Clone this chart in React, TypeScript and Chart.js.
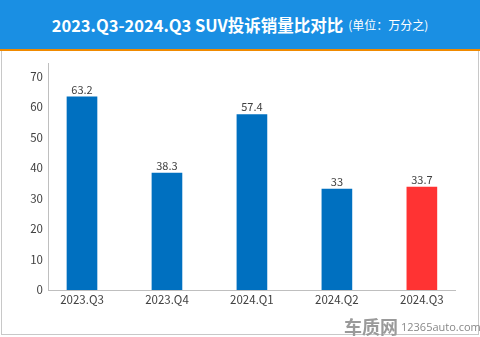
import React, { useEffect, useRef } from "react";
import { Chart, registerables } from "chart.js";

Chart.register(...registerables);

const categories = ["2023.Q3", "2023.Q4", "2024.Q1", "2024.Q2", "2024.Q3"];
const values = [63.2, 38.3, 57.4, 33, 33.7];
const barColors = ["#0070c0", "#0070c0", "#0070c0", "#0070c0", "#ff3333"];
const yTicks = [0, 10, 20, 30, 40, 50, 60, 70];

const FONT = "'Noto Sans CJK SC', 'Noto Sans', sans-serif";

const valueLabels = {
  id: "valueLabels",
  afterDatasetsDraw(chart: any) {
    const ctx = chart.ctx;
    const meta = chart.getDatasetMeta(0);
    ctx.save();
    ctx.font = `11px ${FONT}`;
    ctx.fillStyle = "#404040";
    ctx.textAlign = "center";
    ctx.textBaseline = "bottom";
    meta.data.forEach((bar: any, i: number) => {
      ctx.fillText(String(values[i]), bar.x, bar.y - 2);
    });
    ctx.restore();
  },
};

export default function App() {
  const ref = useRef<HTMLCanvasElement>(null);
  useEffect(() => {
    if (!ref.current) return;
    const chart = new Chart(ref.current, {
      type: "bar",
      data: {
        datasets: [
          {
            data: values.map((v, i) => ({ x: i, y: v })),
            backgroundColor: barColors,
            barThickness: 30,
          },
        ],
      },
      options: {
        animation: false,
        responsive: false,
        maintainAspectRatio: false,
        layout: { padding: { left: 0, right: 25, top: 12, bottom: 0 } },
        plugins: { legend: { display: false }, tooltip: { enabled: false }, title: { display: false } },
        scales: {
          x: {
            type: "linear",
            offset: false,
            min: -0.4,
            max: 4.39,
            grid: { display: false, drawTicks: false, offset: false },
            border: { display: true, color: "#bfbfbf", width: 1 },
            afterBuildTicks: (scale: any) => {
              scale.ticks = categories.map((_, i) => ({ value: i }));
            },
            afterFit: (scale: any) => {
              scale.height = 31;
            },
            ticks: {
              autoSkip: false,
              maxRotation: 0,
              padding: 3,
              color: "#404040",
              font: { family: FONT, size: 11.5 },
              callback: (v: any) => categories[v as number] ?? "",
            },
          },
          y: {
            min: 0,
            max: 74.3,
            grid: { display: false, drawTicks: false },
            border: { display: true, color: "#bfbfbf", width: 1 },
            afterBuildTicks: (scale: any) => {
              scale.ticks = yTicks.map((v) => ({ value: v }));
            },
            afterFit: (scale: any) => {
              scale.width = 48;
            },
            ticks: {
              padding: 5,
              color: "#404040",
              font: { family: FONT, size: 11.5 },
            },
          },
        },
      },
      plugins: [valueLabels],
    });
    return () => chart.destroy();
  }, []);

  return (
    <div style={{ position: "absolute", left: 0, top: 0, width: 480, height: 337, background: "#fff", overflow: "hidden" }}>
      <div
        style={{
          position: "absolute",
          left: 0,
          top: 0,
          width: 480,
          height: 49,
          background: "#1a8fe3",
          color: "#fff",
          display: "flex",
          alignItems: "center",
          justifyContent: "center",
          fontFamily: FONT,
          whiteSpace: "nowrap",
        }}
      >
        <span style={{ fontSize: 16.5, fontWeight: 700 }}>2023.Q3-2024.Q3 SUV投诉销量比对比</span>
        <span style={{ fontSize: 12, marginLeft: 5 }}>(单位：万分之)</span>
      </div>
      <div style={{ position: "absolute", left: 0, top: 49, width: 480, height: 2, background: "#f08a00" }} />
      <div
        style={{
          position: "absolute",
          left: 1,
          top: 51,
          width: 476,
          height: 283,
          borderLeft: "1px solid #c8c8c8",
          borderRight: "1px solid #c8c8c8",
          borderBottom: "1px solid #c8c8c8",
        }}
      />
      <canvas ref={ref} width={480} height={270} style={{ position: "absolute", left: 0, top: 51, width: 480, height: 270 }} />
      <div
        style={{
          position: "absolute",
          left: 344,
          top: 313,
          fontFamily: FONT,
          color: "#9a9a9a",
          whiteSpace: "nowrap",
          display: "flex",
          alignItems: "center",
        }}
      >
        <span style={{ fontSize: 18, fontWeight: 700 }}>车质网</span>
        <span style={{ fontSize: 11, marginLeft: 3, color: "#888", fontFamily: "'Open Sans', sans-serif" }}>12365auto.com</span>
      </div>
    </div>
  );
}
